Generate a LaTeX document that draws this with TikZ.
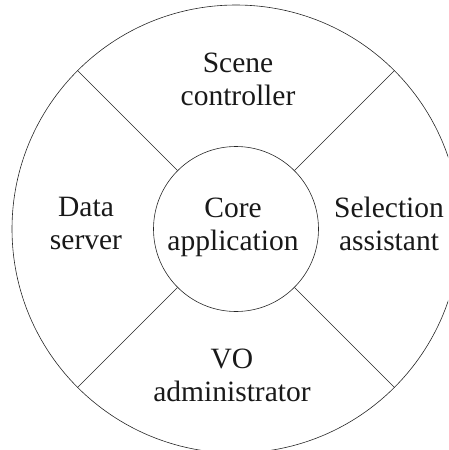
\documentclass[tikz,border=0pt]{standalone}
\usepackage{fontspec}
\setmainfont{Liberation Serif}
\begin{document}
\begin{tikzpicture}[x=1pt,y=-1pt,
  ring/.style={draw=black!85,line width=0.6pt,circle,inner sep=0pt},
  spoke/.style={draw=black!85,line width=0.6pt},
  label/.style={align=center,anchor=base,inner sep=0pt,
    font=\rmfamily\fontsize{29.5}{32.5}\selectfont,text=black!90}]
\useasboundingbox (0,0) rectangle (448,450);
\clip (0,0) rectangle (448,450);
% rings
\node[ring,minimum size=448pt] (outer) at (236,229) {};
\node[ring,minimum size=165pt] (core) at (236,229) {};
% radial dividers between the four sectors
\foreach \a in {45,135,225,315}
  \draw[spoke] (core.\a) -- (outer.\a);
% centre and sector labels (anchored at the baseline of the second line)
\node[label] (coretext) at (233,250) {Core\\application};
\node[label] (scene) at (238,105) {Scene\\controller};
\node[label] (data) at (86,249) {Data\\server};
\node[label] (select) at (389,250) {Selection\\assistant};
\node[label] (vo) at (232,401) {VO\\administrator};
\end{tikzpicture}
\end{document}
